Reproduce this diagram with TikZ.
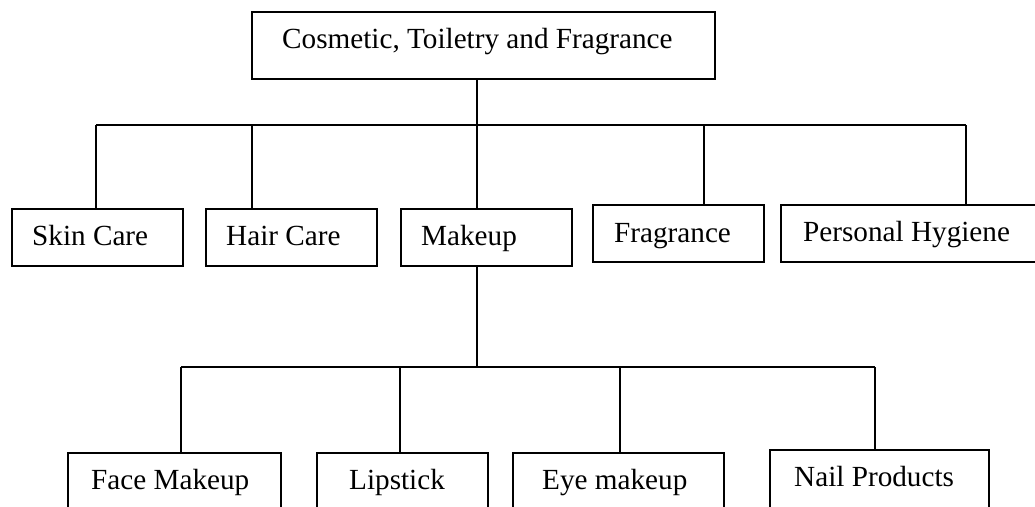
\documentclass[tikz,border=0pt]{standalone}
\usepackage{fontspec}
\setmainfont{Liberation Serif}
\begin{document}
\begin{tikzpicture}[x=1pt,y=-1pt,
  box/.style={draw=black,line width=2.2pt,rectangle,inner sep=0pt,anchor=north west},
  lbl/.style={anchor=base west,inner sep=0pt,font=\fontsize{29.2}{34}\selectfont},
  conn/.style={draw=black,line width=1.9pt}]
\useasboundingbox (0,0) rectangle (1035,506);
\clip (0,0) rectangle (1035,506);
\fill[white] (0,0) rectangle (1035,506);
% boxes: name, x1, y1, width, height, text x, text baseline, text
\newcommand{\mybox}[8]{%
  \node[box,minimum width=#4pt,minimum height=#5pt] (#1) at (#2,#3) {};
  \node[lbl] (#1-t) at (#6,#7) {#8};}
\mybox{top}{251}{11}{463}{67}{282}{48}{Cosmetic, Toiletry and Fragrance}
\mybox{sc}{11}{208}{171}{57}{32}{245}{Skin Care}
\mybox{hc}{205}{208}{171}{57}{226}{245}{Hair Care}
\mybox{mk}{400}{208}{171}{57}{421}{245}{Makeup}
\mybox{fr}{592}{204}{171}{57}{614}{242}{Fragrance}
\mybox{ph}{780}{204}{265}{57}{803}{241}{Personal Hygiene}
\mybox{fm}{67}{452}{213}{80}{91}{489}{Face Makeup}
\mybox{lp}{316}{452}{171}{80}{349}{489}{Lipstick}
\mybox{em}{512}{452}{211}{80}{542}{489}{Eye makeup}
\mybox{np}{769}{449}{219}{80}{794}{486}{Nail Products}
% junctions level 1
\coordinate (j1) at (477,125);
\coordinate (jsc) at (96,125);
\coordinate (jhc) at (252,125);
\coordinate (jfr) at (704,125);
\coordinate (jph) at (966,125);
\draw[conn] (top.south -| j1) -- (j1);
\draw[conn] (jsc) -- (jph);
\draw[conn] (jsc) -- (jsc |- sc.north);
\draw[conn] (jhc) -- (jhc |- hc.north);
\draw[conn] (j1) -- (j1 |- mk.north);
\draw[conn] (jfr) -- (jfr |- fr.north);
\draw[conn] (jph) -- (jph |- ph.north);
% junctions level 2
\coordinate (j2) at (477,367);
\coordinate (jfm) at (181,367);
\coordinate (jlp) at (400,367);
\coordinate (jem) at (620,367);
\coordinate (jnp) at (875,367);
\draw[conn] (mk.south -| j2) -- (j2);
\draw[conn] (jfm) -- (jnp);
\draw[conn] (jfm) -- (jfm |- fm.north);
\draw[conn] (jlp) -- (jlp |- lp.north);
\draw[conn] (jem) -- (jem |- em.north);
\draw[conn] (jnp) -- (jnp |- np.north);
\end{tikzpicture}
\end{document}
